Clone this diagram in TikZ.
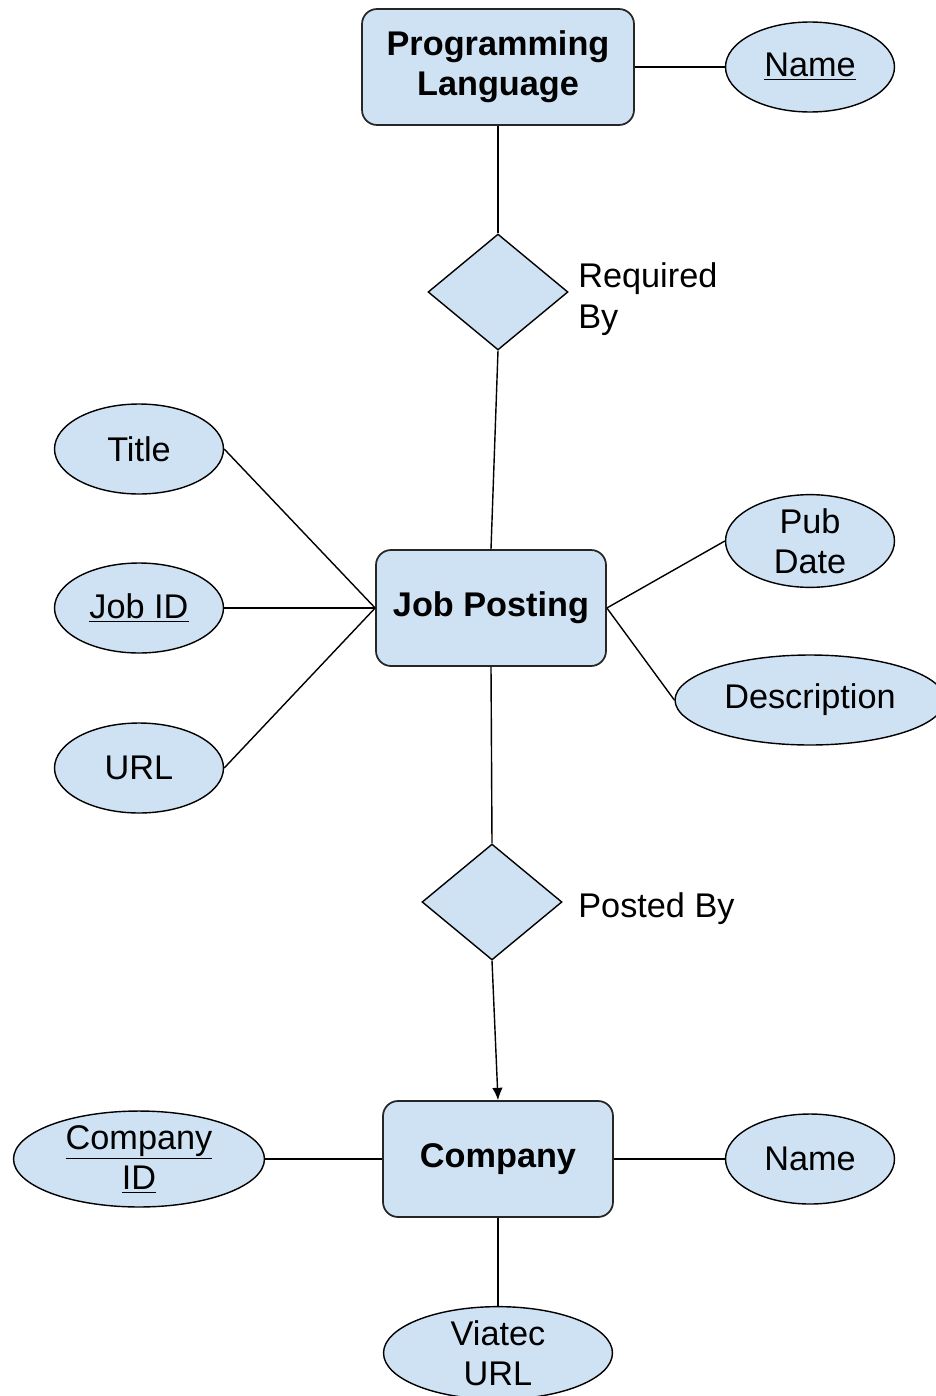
\documentclass[tikz,border=0pt]{standalone}
\usepackage{fontspec}
\setmainfont{Liberation Sans}
\usetikzlibrary{shapes.geometric,arrows.meta}

\definecolor{erfill}{RGB}{207,226,243}

\begin{document}
\begin{tikzpicture}[x=0.02cm, y=-0.02cm]
% Estilos del diagrama
\tikzstyle{entity} = [rectangle, rounded corners=0.3cm, draw=black!85, line width=1pt, fill=erfill, minimum width=4.6cm, minimum height=2.32cm, align=center, font=\fontsize{19.5}{23}\selectfont\bfseries]
\tikzstyle{attrib} = [ellipse, draw=black, line width=0.8pt, fill=erfill, minimum width=3.38cm, minimum height=1.8cm, inner sep=0pt, align=center, font=\fontsize{19.5}{23}\selectfont]
\tikzstyle{relation} = [diamond, draw=black, line width=0.8pt, fill=erfill, minimum width=2.8cm, minimum height=2.32cm, inner sep=0pt]
\tikzstyle{link} = [draw=black, line width=0.8pt]

\useasboundingbox (0,0) rectangle (936,1396);

% Entidades
\node[entity, minimum width=5.44cm] (lang) at (498,67) {Programming\\Language};
\node[entity] (job) at (491,608) {Job Posting};
\node[entity] (company) at (498,1159) {Company};

% Relaciones
\node[relation] (requiredby) at (498,292) {};
\node[anchor=west, align=left, inner sep=0pt, font=\fontsize{19.5}{23}\selectfont] (requiredlbl) at (578,299) {Required\\By};
\node[relation] (postedby) at (492,902) {};
\node[anchor=west, inner sep=0pt, font=\fontsize{19.5}{23}\selectfont] (postedlbl) at (578,909) {Posted By};

% Atributos
\node[attrib] (langname) at (810,67) {\underline{Name}};
\node[attrib] (title) at (139,449) {Title};
\node[attrib] (jobid) at (139,608) {\underline{Job ID}};
\node[attrib] (url) at (139,768) {URL};
\node[attrib] (pubdate) at (810,541) {Pub\\Date};
\node[attrib, minimum width=5.4cm] (desc) at (810,700) {Description};
\node[attrib, minimum width=5.02cm] (compid) at (139,1159) {\underline{Company}\\\underline{ID}};
\node[attrib] (compname) at (810,1159) {Name};
\node[attrib, minimum width=4.58cm] (viatec) at (498,1353) {Viatec\\URL};

% Conexiones
\draw[link] (lang.south) -- (requiredby.north);
\draw[link] (lang.east) -- (langname.west);
\draw[link] (requiredby.south) -- (job.north);
\draw[link] (title.east) -- (job.west);
\draw[link] (jobid.east) -- (job.west);
\draw[link] (url.east) -- (job.west);
\draw[link] (job.east) -- (pubdate.west);
\draw[link] (job.east) -- (desc.west);
\draw[link] (job.south) -- (postedby.north);
\draw[link, -{Latex[length=7pt, width=6pt]}] (postedby.south) -- (company.north);
\draw[link] (company.west) -- (compid.east);
\draw[link] (company.east) -- (compname.west);
\draw[link] (company.south) -- (viatec.north);
\end{tikzpicture}
\end{document}
